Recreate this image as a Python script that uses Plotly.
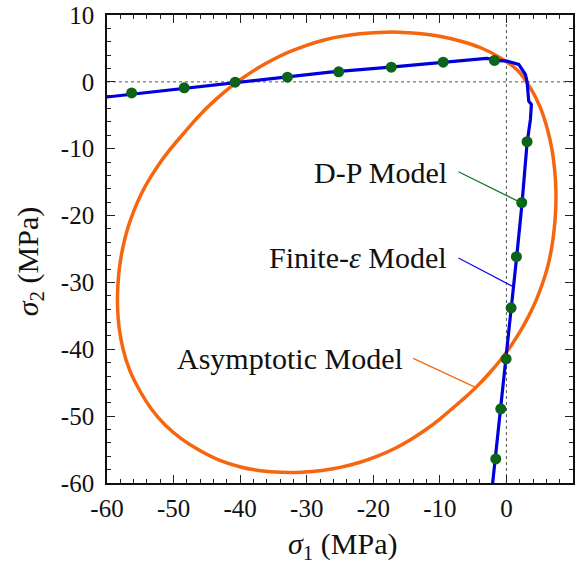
import plotly.graph_objects as go

# Drucker-Prager (D-P) model points
dp_s1 = [-56.3, -48.4, -40.75, -32.9, -25.2, -17.3, -9.5, -1.8,
         3.1, 2.3, 1.5, 0.7, -0.05, -0.85, -1.6]
dp_s2 = [-1.65, -0.9, -0.05, 0.7, 1.5, 2.2, 2.95, 3.2,
         -8.95, -18.05, -26.15, -33.8, -41.45, -48.9, -56.4]

# Finite-epsilon model curve
fe_s1 = [-60.3, -40.0, -26.5, -17.4, -9.4, -3.0, -2.0, -1.5, 0.1, 1.85, 2.85, 3.1,
         3.35, 3.75, 3.6, 3.1, 2.35, 1.6, -2.1]
fe_s2 = [-2.3, -0.1, 1.45, 2.2, 2.95, 3.5, 3.4, 3.2, 3.1, 2.6, 1.1, 0.0,
         -2.9, -3.4, -5.65, -9.15, -18.1, -25.6, -60.3]

# Asymptotic model curve (closed)
as_s1 = [1.70, -0.95, -3.86, -6.95, -10.05, -13.14, -16.16, -19.12, -22.00, -24.80,
         -27.52, -30.13, -32.64, -35.04, -37.33, -39.50, -41.56, -43.51, -45.36, -47.09,
         -48.76, -50.43, -52.00, -53.45, -54.80, -55.95, -56.90, -57.62, -58.12, -58.38,
         -58.41, -58.16, -57.56, -56.58, -55.15, -53.41, -51.30,
         -48.81, -46.05, -43.15, -40.08, -36.94, -33.81, -30.72, -27.72, -24.80, -21.98,
         -19.29, -16.71, -14.30, -12.08, -10.00, -8.02, -6.09, -4.24, -2.51, -0.86,
         0.66, 2.07, 3.34, 4.47, 5.43, 6.23, 6.80, 7.18, 7.40, 7.43,
         7.24, 6.83, 6.12, 5.10, 3.62, 1.70]
as_s2 = [1.70, 3.62, 5.10, 6.12, 6.83, 7.24, 7.43, 7.40, 7.18, 6.80,
         6.23, 5.43, 4.47, 3.34, 2.07, 0.66, -0.86, -2.51, -4.24, -6.09,
         -8.02, -10.00, -12.05, -14.25, -16.65, -19.25, -21.95, -24.80, -27.72, -30.72,
         -33.81, -36.94, -40.08, -43.15, -46.05, -48.81, -51.30,
         -53.41, -55.15, -56.58, -57.56, -58.16, -58.41, -58.38, -58.12, -57.62, -56.90,
         -55.95, -54.80, -53.45, -52.00, -50.43, -48.76, -47.09, -45.36, -43.51, -41.56,
         -39.50, -37.33, -35.04, -32.64, -30.13, -27.52, -24.80, -22.00, -19.12, -16.16,
         -13.14, -10.05, -6.95, -3.86, -0.95, 1.70]

tick_vals = [-60, -50, -40, -30, -20, -10, 0, 10]
tick_text = ["-60", "-50", "-40", "-30", "-20", "-10", "0", "10"]

labels = ["D-P Model", "Finite-<i>ε</i> Model", "Asymptotic Model"]
label_pos = [(-8.7, -13.6), (-8.7, -26.3), (-15.2, -41.4)]
leader = [((-7.2, -13.45), (2.25, -18.1)),
          ((-7.2, -26.35), (0.85, -30.55)),
          ((-14.0, -41.35), (-4.65, -45.7))]
leader_col = ["#157a23", "#1010ee", "#f56a10"]

SERIF = "Liberation Serif, Times New Roman, serif"

fig = go.Figure()
fig.add_trace(go.Scatter(x=as_s1, y=as_s2, mode="lines",
                         line=dict(color="#f5660f", width=3.5, shape="spline", smoothing=0.8),
                         hoverinfo="skip", showlegend=False))
fig.add_trace(go.Scatter(x=fe_s1, y=fe_s2, mode="lines",
                         line=dict(color="#0000dd", width=3.2),
                         hoverinfo="skip", showlegend=False))
fig.add_trace(go.Scatter(x=dp_s1, y=dp_s2, mode="markers",
                         marker=dict(color="#0b6418", size=11, line=dict(width=0)),
                         showlegend=False))

shapes = [
    dict(type="line", xref="x", yref="y", x0=0, x1=0, y0=-60, y1=10,
         line=dict(color="#555555", width=1, dash="dot"), layer="below"),
    dict(type="line", xref="x", yref="y", x0=-60, x1=10, y0=0, y1=0,
         line=dict(color="#555555", width=1, dash="dot"), layer="below"),
]
for (p0, p1), c in zip(leader, leader_col):
    shapes.append(dict(type="line", xref="x", yref="y", x0=p0[0], y0=p0[1],
                       x1=p1[0], y1=p1[1], line=dict(color=c, width=1.3)))

annotations = []
for t, (x, y) in zip(labels, label_pos):
    annotations.append(dict(x=x, y=y, xref="x", yref="y", text=t, showarrow=False,
                            xanchor="right", yanchor="middle",
                            font=dict(family=SERIF, size=30, color="#111111")))
annotations.append(dict(x=0.506, y=-0.135, xref="paper", yref="paper",
                        text="<i>σ</i><sub>1</sub> (MPa)", showarrow=False,
                        xanchor="center", yanchor="middle",
                        font=dict(family=SERIF, size=30, color="#111111")))
annotations.append(dict(x=-0.165, y=0.472, xref="paper", yref="paper",
                        text="<i>σ</i><sub>2</sub> (MPa)", showarrow=False, textangle=-90,
                        xanchor="center", yanchor="middle",
                        font=dict(family=SERIF, size=30, color="#111111")))

axis_common = dict(range=[-60, 10], tickmode="array", tickvals=tick_vals, ticktext=tick_text,
                   ticks="inside", ticklen=8, tickwidth=1.2, tickcolor="#222222",
                   minor=dict(dtick=2, ticks="inside", ticklen=4, tickwidth=1, tickcolor="#222222"),
                   showline=True, linecolor="#111111", linewidth=1.6, mirror="allticks",
                   showgrid=False, zeroline=False, automargin=False,
                   tickfont=dict(family=SERIF, size=25, color="#111111"))

fig.update_layout(
    width=585, height=567,
    margin=dict(l=107, r=12, t=15, b=84),
    plot_bgcolor="white", paper_bgcolor="white",
    xaxis=dict(**axis_common, ticklabelstandoff=2),
    yaxis=dict(**axis_common, ticklabelstandoff=6),
    shapes=shapes, annotations=annotations,
)

fig.write_html("out.html")
